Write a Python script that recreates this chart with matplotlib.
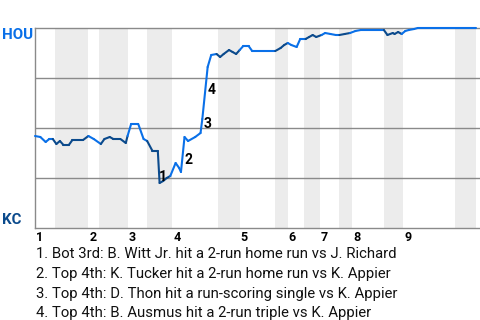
import matplotlib
matplotlib.use('Agg')
import matplotlib.pyplot as plt
import matplotlib.transforms as mtransforms
from matplotlib.collections import LineCollection
import numpy as np

plt.rcParams['font.family'] = ['Roboto', 'DejaVu Sans']

# Ход игры: номер розыгрыша и вероятность победы HOU
plays = [0, 1.5, 3, 4, 5, 6, 7, 8, 9.5, 10.5, 13.5, 15, 16.5, 18.5, 19.5, 21, 22, 24,
         25.5, 26, 27, 29, 30.5, 31.5, 33, 34.5, 35, 36, 37, 38, 39.5, 40.5, 41, 42,
         43, 45, 46.5, 47, 48.5, 49.5, 51, 52, 53, 54.5, 55.5, 56.5, 57.5, 58.5, 60,
         61, 67.5, 69, 70, 71, 72, 73.5, 74.5, 76, 77, 78, 79, 80.5, 81.5, 83, 84.5,
         85.5, 87, 88.5, 90, 91.5, 98, 99, 100.5, 101, 102, 103, 104, 105, 106.5,
         107.5, 124]
hou_wp = [.46, .455, .43, .445, .445, .42, .435, .415, .415, .44, .44, .46, .445, .42,
          .445, .455, .445, .445, .425, .46, .52, .52, .445, .435, .385, .385, .225,
          .235, .25, .26, .325, .30, .28, .455, .435, .455, .475, .545, .805, .865,
          .87, .855, .87, .89, .88, .87, .89, .91, .91, .885, .885, .90, .915, .925,
          .915, .905, .945, .945, .955, .965, .955, .965, .975, .97, .965, .965, .97,
          .975, .985, .99, .99, .965, .975, .97, .98, .97, .985, .99, .995, 1.0, 1.0]

# Границы половин иннингов (верх/низ), последняя - конец игры
half_starts = [0, 5.5, 15, 18, 26, 31.5, 38.5, 51.5, 57.5, 67.5, 71, 75.5, 80, 85.5,
               89, 98, 103.5, 118, 124]
inning_labels = ['1', '2', '3', '4', '5', '6', '7', '8', '9']

away_team = 'HOU'
home_team = 'KC'

event_labels = ['1', '2', '3', '4']
event_at = [(36, 0.255), (43, 0.34), (48.6, 0.52), (49.7, 0.69)]
event_text = [
    '1. Bot 3rd: B. Witt Jr. hit a 2-run home run vs J. Richard',
    '2. Top 4th: K. Tucker hit a 2-run home run vs K. Appier',
    '3. Top 4th: D. Thon hit a run-scoring single vs K. Appier',
    '4. Top 4th: B. Ausmus hit a 2-run triple vs K. Appier',
]

LIGHT = '#0a70e8'
DARK = '#0b4a8c'
BAND = '#ececec'
GRID = '#8a8a8a'

fig = plt.figure(figsize=(4.8, 3.2), dpi=100)
ax = fig.add_axes([35 / 480, 92 / 320, 445 / 480, 200 / 320])
ax.set_xlim(0, 125)
ax.set_ylim(0, 1)

# Затенение нижних половин иннингов
for k in range(1, len(half_starts) - 1, 2):
    ax.axvspan(half_starts[k], half_starts[k + 1], color=BAND, lw=0, zorder=0)

for y in [0.25, 0.5, 0.75]:
    ax.axhline(y, color=GRID, lw=1, zorder=1)

for side in ['top', 'left', 'bottom']:
    ax.spines[side].set_color(GRID)
    ax.spines[side].set_linewidth(1)
ax.spines['right'].set_visible(False)
ax.set_xticks([])
ax.set_yticks([])

# Линия вероятности: цвет по половине иннинга
pts = np.column_stack([plays, hou_wp])
segs = np.stack([pts[:-1], pts[1:]], axis=1)
mids = (pts[:-1, 0] + pts[1:, 0]) / 2
half_idx = np.searchsorted(half_starts, mids, side='right') - 1
colors = [DARK if h % 2 == 1 or h >= len(half_starts) - 1 else LIGHT for h in half_idx]
lc = LineCollection(segs, colors=colors, linewidths=1.5, zorder=3, clip_on=False,
                    capstyle='round', joinstyle='round')
ax.add_collection(lc)

for lab, (ex, ey) in zip(event_labels, event_at):
    ax.text(ex, ey, lab, fontsize=10, fontweight='bold', color='black',
            ha='center', va='center', zorder=4)

trans = mtransforms.blended_transform_factory(ax.transData, ax.transAxes)
for i, lab in enumerate(inning_labels):
    ax.text(half_starts[2 * i] + 0.3, -0.065, lab, transform=trans, fontsize=9,
            fontweight='bold', color='black', ha='left', va='baseline', clip_on=False)

fig.text(2 / 480, (320 - 39) / 320, away_team, color=LIGHT, fontsize=10.8,
         fontweight='bold', ha='left', va='baseline')
fig.text(2 / 480, (320 - 224) / 320, home_team, color=DARK, fontsize=10.8,
         fontweight='bold', ha='left', va='baseline')

base_y = [258.3, 278.3, 297.7, 316.7]
for txt, by in zip(event_text, base_y):
    fig.text(36 / 480, (320 - by) / 320, txt, fontsize=10.75, color='#111111',
             ha='left', va='baseline')

fig.savefig('out.png', dpi=100, facecolor='white')
